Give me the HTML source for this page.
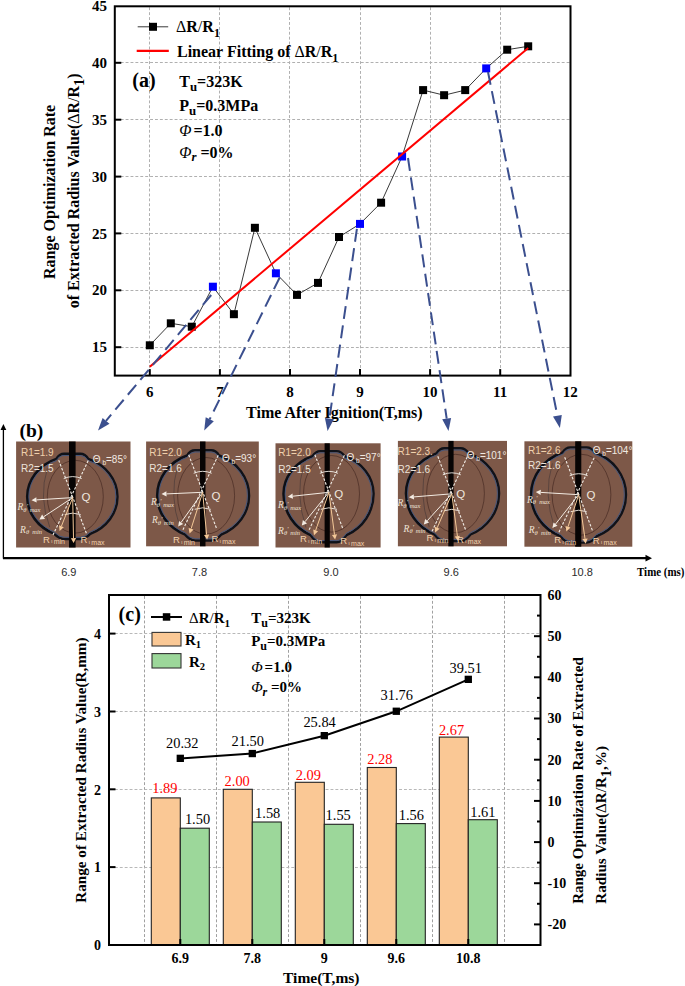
<!DOCTYPE html>
<html><head><meta charset="utf-8"><style>
html,body{margin:0;padding:0;background:#fff;width:685px;height:986px;overflow:hidden}
svg{display:block}
</style></head><body>
<svg width="685" height="986" viewBox="0 0 685 986">
<line x1="149.5" y1="7.3" x2="149.5" y2="374.6" stroke="#b0b0b0" stroke-width="1" stroke-dasharray="2.9 2.0"/>
<line x1="219.5" y1="7.3" x2="219.5" y2="374.6" stroke="#b0b0b0" stroke-width="1" stroke-dasharray="2.9 2.0"/>
<line x1="289.5" y1="7.3" x2="289.5" y2="374.6" stroke="#b0b0b0" stroke-width="1" stroke-dasharray="2.9 2.0"/>
<line x1="360.5" y1="7.3" x2="360.5" y2="374.6" stroke="#b0b0b0" stroke-width="1" stroke-dasharray="2.9 2.0"/>
<line x1="430.5" y1="7.3" x2="430.5" y2="374.6" stroke="#b0b0b0" stroke-width="1" stroke-dasharray="2.9 2.0"/>
<line x1="500.5" y1="7.3" x2="500.5" y2="374.6" stroke="#b0b0b0" stroke-width="1" stroke-dasharray="2.9 2.0"/>
<line x1="115.8" y1="347.5" x2="569.5" y2="347.5" stroke="#b0b0b0" stroke-width="1" stroke-dasharray="2.9 2.0"/>
<line x1="115.8" y1="290.5" x2="569.5" y2="290.5" stroke="#b0b0b0" stroke-width="1" stroke-dasharray="2.9 2.0"/>
<line x1="115.8" y1="233.5" x2="569.5" y2="233.5" stroke="#b0b0b0" stroke-width="1" stroke-dasharray="2.9 2.0"/>
<line x1="115.8" y1="176.5" x2="569.5" y2="176.5" stroke="#b0b0b0" stroke-width="1" stroke-dasharray="2.9 2.0"/>
<line x1="115.8" y1="119.5" x2="569.5" y2="119.5" stroke="#b0b0b0" stroke-width="1" stroke-dasharray="2.9 2.0"/>
<line x1="115.8" y1="62.5" x2="569.5" y2="62.5" stroke="#b0b0b0" stroke-width="1" stroke-dasharray="2.9 2.0"/>
<rect x="114.8" y="6.3" width="455.7" height="369.3" fill="none" stroke="#000" stroke-width="2"/>
<line x1="149.8" y1="375.6" x2="149.8" y2="369.1" stroke="#000" stroke-width="2"/>
<line x1="219.9" y1="375.6" x2="219.9" y2="369.1" stroke="#000" stroke-width="2"/>
<line x1="290.0" y1="375.6" x2="290.0" y2="369.1" stroke="#000" stroke-width="2"/>
<line x1="360.0" y1="375.6" x2="360.0" y2="369.1" stroke="#000" stroke-width="2"/>
<line x1="430.1" y1="375.6" x2="430.1" y2="369.1" stroke="#000" stroke-width="2"/>
<line x1="500.2" y1="375.6" x2="500.2" y2="369.1" stroke="#000" stroke-width="2"/>
<line x1="114.8" y1="347.2" x2="121.3" y2="347.2" stroke="#000" stroke-width="2"/>
<line x1="114.8" y1="290.3" x2="121.3" y2="290.3" stroke="#000" stroke-width="2"/>
<line x1="114.8" y1="233.4" x2="121.3" y2="233.4" stroke="#000" stroke-width="2"/>
<line x1="114.8" y1="176.6" x2="121.3" y2="176.6" stroke="#000" stroke-width="2"/>
<line x1="114.8" y1="119.7" x2="121.3" y2="119.7" stroke="#000" stroke-width="2"/>
<line x1="114.8" y1="62.8" x2="121.3" y2="62.8" stroke="#000" stroke-width="2"/>
<text x="149.8" y="396.5" font-family='"Liberation Serif", serif' font-weight="bold" font-size="15" text-anchor="middle">6</text>
<text x="219.9" y="396.5" font-family='"Liberation Serif", serif' font-weight="bold" font-size="15" text-anchor="middle">7</text>
<text x="290.0" y="396.5" font-family='"Liberation Serif", serif' font-weight="bold" font-size="15" text-anchor="middle">8</text>
<text x="360.0" y="396.5" font-family='"Liberation Serif", serif' font-weight="bold" font-size="15" text-anchor="middle">9</text>
<text x="430.1" y="396.5" font-family='"Liberation Serif", serif' font-weight="bold" font-size="15" text-anchor="middle">10</text>
<text x="500.2" y="396.5" font-family='"Liberation Serif", serif' font-weight="bold" font-size="15" text-anchor="middle">11</text>
<text x="570.3" y="396.5" font-family='"Liberation Serif", serif' font-weight="bold" font-size="15" text-anchor="middle">12</text>
<text x="107" y="352.3" font-family='"Liberation Serif", serif' font-weight="bold" font-size="15" text-anchor="end">15</text>
<text x="107" y="295.4" font-family='"Liberation Serif", serif' font-weight="bold" font-size="15" text-anchor="end">20</text>
<text x="107" y="238.5" font-family='"Liberation Serif", serif' font-weight="bold" font-size="15" text-anchor="end">25</text>
<text x="107" y="181.7" font-family='"Liberation Serif", serif' font-weight="bold" font-size="15" text-anchor="end">30</text>
<text x="107" y="124.8" font-family='"Liberation Serif", serif' font-weight="bold" font-size="15" text-anchor="end">35</text>
<text x="107" y="67.9" font-family='"Liberation Serif", serif' font-weight="bold" font-size="15" text-anchor="end">40</text>
<text x="107" y="11.0" font-family='"Liberation Serif", serif' font-weight="bold" font-size="15" text-anchor="end">45</text>
<text x="334.3" y="418.3" font-family='"Liberation Serif", serif' font-weight="bold" font-size="16" text-anchor="middle">Time After Ignition(T,ms)</text>
<g transform="translate(55.4,279) rotate(-90)"><text x="0" y="0" font-family='"Liberation Serif", serif' font-weight="bold" font-size="16">Range Optimization Rate</text></g>
<g transform="translate(79.4,308.2) rotate(-90)"><text x="0" y="0" font-family='"Liberation Serif", serif' font-weight="bold" font-size="16">of Extracted Radius Value(<tspan font-weight="normal">Δ</tspan>R<tspan font-weight="normal">/</tspan>R<tspan font-size="14" dy="4.5">1</tspan><tspan dy="-4.5">)</tspan></text></g>
<polyline points="149.8,345.3 170.8,323.3 191.8,326.7 212.9,286.7 233.9,314.2 254.9,227.8 275.9,273.3 297.0,294.9 318.0,282.9 339.0,237.0 360.0,223.9 381.1,202.7 402.1,156.5 423.1,90.1 444.1,95.2 465.2,90.1 486.2,68.4 507.2,49.7 528.2,46.3" fill="none" stroke="#222" stroke-width="0.9"/>
<rect x="145.8" y="341.3" width="8" height="8" fill="#000"/>
<rect x="166.8" y="319.3" width="8" height="8" fill="#000"/>
<rect x="187.8" y="322.7" width="8" height="8" fill="#000"/>
<rect x="208.9" y="282.7" width="8" height="8" fill="#0000ff"/>
<rect x="229.9" y="310.2" width="8" height="8" fill="#000"/>
<rect x="250.9" y="223.8" width="8" height="8" fill="#000"/>
<rect x="271.9" y="269.3" width="8" height="8" fill="#0000ff"/>
<rect x="293.0" y="290.9" width="8" height="8" fill="#000"/>
<rect x="314.0" y="278.9" width="8" height="8" fill="#000"/>
<rect x="335.0" y="233.0" width="8" height="8" fill="#000"/>
<rect x="356.0" y="219.9" width="8" height="8" fill="#0000ff"/>
<rect x="377.1" y="198.7" width="8" height="8" fill="#000"/>
<rect x="398.1" y="152.5" width="8" height="8" fill="#0000ff"/>
<rect x="419.1" y="86.1" width="8" height="8" fill="#000"/>
<rect x="440.1" y="91.2" width="8" height="8" fill="#000"/>
<rect x="461.2" y="86.1" width="8" height="8" fill="#000"/>
<rect x="482.2" y="64.4" width="8" height="8" fill="#0000ff"/>
<rect x="503.2" y="45.7" width="8" height="8" fill="#000"/>
<rect x="524.2" y="42.3" width="8" height="8" fill="#000"/>
<line x1="149.8" y1="366.8" x2="528.2" y2="48.0" stroke="#ff0000" stroke-width="2"/>
<line x1="137.7" y1="26.8" x2="168.2" y2="26.8" stroke="#222" stroke-width="0.9"/>
<rect x="149" y="22.8" width="8" height="8" fill="#000"/>
<text x="176" y="32.3" font-family='"Liberation Serif", serif' font-weight="bold" font-size="16"><tspan font-weight="normal">Δ</tspan>R<tspan font-weight="normal">/</tspan>R<tspan font-size="12" dy="4.5">1</tspan></text>
<line x1="136.7" y1="50.9" x2="168.8" y2="50.9" stroke="#ff0000" stroke-width="2.2"/>
<text x="177" y="57" font-family='"Liberation Serif", serif' font-weight="bold" font-size="16">Linear Fitting of <tspan font-weight="normal">Δ</tspan>R<tspan font-weight="normal">/</tspan>R<tspan font-size="12" dy="4.5">1</tspan></text>
<text x="132.3" y="86.6" font-family='"Liberation Serif", serif' font-weight="bold" font-size="20">(a)</text>
<text x="179.3" y="87.2" font-family='"Liberation Serif", serif' font-weight="bold" font-size="16">T<tspan font-size="12.8" dy="4">u</tspan><tspan dy="-4">=323K</tspan></text>
<text x="179.3" y="110.7" font-family='"Liberation Serif", serif' font-weight="bold" font-size="16">P<tspan font-size="12.8" dy="4">u</tspan><tspan dy="-4">=0.3MPa</tspan></text>
<text x="179.3" y="136" font-family='"Liberation Serif", serif' font-weight="bold" font-size="16"><tspan font-style="italic" font-weight="normal">Φ</tspan><tspan dx="2">=1.0</tspan></text>
<text x="179.3" y="157.7" font-family='"Liberation Serif", serif' font-weight="bold" font-size="16"><tspan font-style="italic" font-weight="normal">Φ</tspan><tspan font-style="italic" font-size="12.8" dy="3.5">r</tspan><tspan dy="-3.5"> =0%</tspan></text>
<line x1="211.2" y1="295" x2="106.0" y2="420.9" stroke="#3b4f8e" stroke-width="2" stroke-dasharray="13 6.5"/>
<polygon points="98,430.5 102.6,418.0 109.5,423.8" fill="#3b4f8e"/>
<line x1="279.7" y1="277.5" x2="209.7" y2="419.3" stroke="#3b4f8e" stroke-width="2" stroke-dasharray="13 6.5"/>
<polygon points="204.2,430.5 205.7,417.3 213.8,421.3" fill="#3b4f8e"/>
<line x1="356.9" y1="228.9" x2="329.4" y2="418.6" stroke="#3b4f8e" stroke-width="2" stroke-dasharray="13 6.5"/>
<polygon points="327.6,431 324.9,418.0 333.8,419.3" fill="#3b4f8e"/>
<line x1="408" y1="158" x2="446.7" y2="418.6" stroke="#3b4f8e" stroke-width="2" stroke-dasharray="13 6.5"/>
<polygon points="448.5,431 442.2,419.3 451.1,418.0" fill="#3b4f8e"/>
<line x1="488" y1="72" x2="557.4" y2="415.7" stroke="#3b4f8e" stroke-width="2" stroke-dasharray="13 6.5"/>
<polygon points="559.9,428 553.0,416.6 561.8,414.9" fill="#3b4f8e"/>
<line x1="3.4" y1="558.5" x2="3.4" y2="429" stroke="#000" stroke-width="1.3"/>
<polygon points="3.4,424 0.5,430 6.3,430" fill="#000"/>
<line x1="3" y1="558.2" x2="647" y2="558.2" stroke="#000" stroke-width="2.2"/>
<polygon points="652,558.2 645.5,554.8 645.5,561.6" fill="#000"/>
<text x="19.5" y="437.3" font-family='"Liberation Serif", serif' font-weight="bold" font-size="19.5">(b)</text>
<text x="637" y="576" font-family='"Liberation Serif", serif' font-weight="bold" font-size="12" textLength="47.5" lengthAdjust="spacingAndGlyphs">Time (ms)</text>
<text x="68.8" y="576" font-family='"Liberation Sans", sans-serif' font-size="11" text-anchor="middle" fill="#2a2a2a">6.9</text>
<text x="199.5" y="576" font-family='"Liberation Sans", sans-serif' font-size="11" text-anchor="middle" fill="#2a2a2a">7.8</text>
<text x="331" y="576" font-family='"Liberation Sans", sans-serif' font-size="11" text-anchor="middle" fill="#2a2a2a">9.0</text>
<text x="451.2" y="576" font-family='"Liberation Sans", sans-serif' font-size="11" text-anchor="middle" fill="#2a2a2a">9.6</text>
<text x="582.2" y="576" font-family='"Liberation Sans", sans-serif' font-size="11" text-anchor="middle" fill="#2a2a2a">10.8</text>
<rect x="16.1" y="441.5" width="114.4" height="106.0" fill="#7d5848"/>
<ellipse cx="75.3" cy="496.7" rx="28.0" ry="36.4" fill="none" stroke="#3a1e1a" stroke-width="0.8" opacity="0.7"/>
<path d="M47.4,468.4 Q38.4,496.7 49.7,527.1" fill="none" stroke="#2c2a30" stroke-width="0.7" opacity="0.6"/>
<path d="M88.3,458.9 A45.2,40.4 0 0 1 117.5,496.7 A45.2,40.5 0 0 1 90.3,533.9 Q85.3,539.0 80.3,539.0 L64.3,539.0 Q59.3,539.0 54.3,533.9 A45.2,40.5 0 0 1 27.1,496.7 A45.2,40.4 0 0 1 56.3,458.9 Q59.3,453.8 64.3,453.8 L80.3,453.8 Q85.3,453.8 88.3,458.9 Z" fill="none" stroke="#101219" stroke-width="2.4"/>
<path d="M49.7,462.5 A44.4,39.6 0 0 0 27.9,496.7 A44.4,39.7 0 0 0 49.7,531.0" fill="none" stroke="#0c0d12" stroke-width="1.4"/>
<path d="M88.3,460.7 A43.5,38.7 0 0 1 115.8,496.7 A43.5,38.8 0 0 1 90.3,532.0 Q85.3,537.3 80.3,537.3 L64.3,537.3 Q59.3,537.3 54.3,532.0 A43.5,38.8 0 0 1 28.8,496.7 A43.5,38.7 0 0 1 56.3,460.7 Q59.3,455.5 64.3,455.5 L80.3,455.5 Q85.3,455.5 88.3,460.7 Z" fill="none" stroke="#3f5680" stroke-width="0.9"/>
<rect x="69" y="441.5" width="6.6" height="106.0" fill="#070404"/>
<line x1="58.7" y1="460.1" x2="86.7" y2="534.1" stroke="#f2ede6" stroke-width="1.1" stroke-dasharray="2.6 1.6"/>
<line x1="88.2" y1="460.6" x2="52.7" y2="535.6" stroke="#f2ede6" stroke-width="1.1" stroke-dasharray="2.6 1.6"/>
<path d="M63.7,478.6 Q72.7,474.6 81.7,478.6" fill="none" stroke="#f2ede6" stroke-width="0.9"/>
<path d="M64.7,514.6 Q72.7,511.6 80.7,514.6" fill="none" stroke="#f2ede6" stroke-width="0.9"/>
<line x1="72.7" y1="497.6" x2="36.5" y2="499.9" stroke="#f3ebe2" stroke-width="1.0"/>
<polygon points="31.5,500.2 36.3,497.3 36.7,502.5" fill="#f3ebe2"/>
<line x1="72.7" y1="497.6" x2="43.6" y2="516.8" stroke="#f3ebe2" stroke-width="1.0"/>
<polygon points="39.4,519.5 42.1,514.6 45.0,518.9" fill="#f3ebe2"/>
<line x1="72.7" y1="497.6" x2="61.4" y2="526.2" stroke="#f4c898" stroke-width="1.0"/>
<polygon points="59.6,530.9 59.0,525.3 63.8,527.2" fill="#f4c898"/>
<line x1="72.7" y1="497.6" x2="73.5" y2="538.1" stroke="#f4c898" stroke-width="1.0"/>
<polygon points="73.6,543.1 70.9,538.2 76.1,538.0" fill="#f4c898"/>
<text x="21.1" y="455.5" font-family='"Liberation Sans", sans-serif' font-size="10" fill="#f0d0ac">R1=1.9</text>
<text x="21.1" y="472" font-family='"Liberation Sans", sans-serif' font-size="10" fill="#ece3da">R2=1.5</text>
<text x="92.8" y="462.5" font-family='"Liberation Sans", sans-serif' font-size="10" fill="#f1e9e1">Θ<tspan font-size="6.5" dy="2"> b</tspan><tspan dy="-2">=85°</tspan></text>
<text x="81.4" y="501.1" font-family='"Liberation Sans", sans-serif' font-size="11.5" fill="#efe7df">Q</text>
<text x="17.5" y="510.2" font-family='"Liberation Serif", serif' font-style="italic" font-size="9.5" fill="#efe3d6">R<tspan font-size="6.5" dy="1.5">θ</tspan><tspan font-size="7" dy="-4">'</tspan><tspan font-size="6.5" dy="4"> max</tspan></text>
<text x="20.1" y="532.6" font-family='"Liberation Serif", serif' font-style="italic" font-size="9.5" fill="#efe3d6">R<tspan font-size="6.5" dy="1.5">θ</tspan><tspan font-size="7" dy="-4">'</tspan><tspan font-size="6.5" dy="4"> min</tspan></text>
<text x="42.9" y="542.6" font-family='"Liberation Sans", sans-serif' font-size="9.5" fill="#f2d2ae">R<tspan font-size="5" dy="0.5"> ι </tspan><tspan font-size="7" dy="1">min</tspan></text>
<text x="80.6" y="543.1" font-family='"Liberation Sans", sans-serif' font-size="9.5" fill="#f2d2ae">R<tspan font-size="5" dy="0.5"> ι </tspan><tspan font-size="7" dy="1">max</tspan></text>
<rect x="146.1" y="441.5" width="112.7" height="104.8" fill="#7d5848"/>
<ellipse cx="206.1" cy="495.8" rx="28.5" ry="38.3" fill="none" stroke="#3a1e1a" stroke-width="0.8" opacity="0.7"/>
<path d="M177.8,465.7 Q168.6,495.8 180.1,527.5" fill="none" stroke="#2c2a30" stroke-width="0.7" opacity="0.6"/>
<path d="M219.1,455.5 A46.0,43.0 0 0 1 249.1,495.8 A46.0,42.2 0 0 1 221.1,534.6 Q216.1,540.5 211.1,540.5 L195.1,540.5 Q190.1,540.5 185.1,534.6 A46.0,42.2 0 0 1 157.1,495.8 A46.0,43.0 0 0 1 187.1,455.5 Q190.1,450.3 195.1,450.3 L211.1,450.3 Q216.1,450.3 219.1,455.5 Z" fill="none" stroke="#101219" stroke-width="2.4"/>
<path d="M180.1,459.4 A45.2,42.2 0 0 0 157.9,495.8 A45.2,41.4 0 0 0 180.1,531.5" fill="none" stroke="#0c0d12" stroke-width="1.4"/>
<path d="M219.1,457.3 A44.3,41.3 0 0 1 247.4,495.8 A44.3,40.5 0 0 1 221.1,532.8 Q216.1,538.8 211.1,538.8 L195.1,538.8 Q190.1,538.8 185.1,532.8 A44.3,40.5 0 0 1 158.8,495.8 A44.3,41.3 0 0 1 187.1,457.3 Q190.1,452.0 195.1,452.0 L211.1,452.0 Q216.1,452.0 219.1,457.3 Z" fill="none" stroke="#3f5680" stroke-width="0.9"/>
<rect x="200" y="441.5" width="5.5" height="104.8" fill="#070404"/>
<line x1="188.7" y1="454.8" x2="216.7" y2="528.8" stroke="#f2ede6" stroke-width="1.1" stroke-dasharray="2.6 1.6"/>
<line x1="218.2" y1="455.3" x2="182.7" y2="530.3" stroke="#f2ede6" stroke-width="1.1" stroke-dasharray="2.6 1.6"/>
<path d="M193.7,473.3 Q202.7,469.3 211.7,473.3" fill="none" stroke="#f2ede6" stroke-width="0.9"/>
<path d="M194.7,509.3 Q202.7,506.3 210.7,509.3" fill="none" stroke="#f2ede6" stroke-width="0.9"/>
<line x1="202.7" y1="492.3" x2="166.5" y2="493.9" stroke="#f3ebe2" stroke-width="1.0"/>
<polygon points="161.5,494.1 166.4,491.3 166.6,496.5" fill="#f3ebe2"/>
<line x1="202.7" y1="492.3" x2="181.1" y2="522.4" stroke="#f3ebe2" stroke-width="1.0"/>
<polygon points="178.2,526.5 179.0,520.9 183.2,523.9" fill="#f3ebe2"/>
<line x1="202.7" y1="492.3" x2="191.1" y2="528.7" stroke="#f4c898" stroke-width="1.0"/>
<polygon points="189.6,533.5 188.6,527.9 193.6,529.5" fill="#f4c898"/>
<line x1="202.7" y1="492.3" x2="206.6" y2="534.6" stroke="#f4c898" stroke-width="1.0"/>
<polygon points="207.1,539.6 204.0,534.9 209.2,534.4" fill="#f4c898"/>
<text x="149.3" y="455.5" font-family='"Liberation Sans", sans-serif' font-size="10" fill="#f0d0ac">R1=2.0</text>
<text x="149.3" y="472" font-family='"Liberation Sans", sans-serif' font-size="10" fill="#ece3da">R2=1.6</text>
<text x="222" y="462" font-family='"Liberation Sans", sans-serif' font-size="10" fill="#f1e9e1">Θ<tspan font-size="6.5" dy="2"> b</tspan><tspan dy="-2">=93°</tspan></text>
<text x="211.4" y="500.2" font-family='"Liberation Sans", sans-serif' font-size="11.5" fill="#efe7df">Q</text>
<text x="151" y="505.4" font-family='"Liberation Serif", serif' font-style="italic" font-size="9.5" fill="#efe3d6">R<tspan font-size="6.5" dy="1.5">θ</tspan><tspan font-size="7" dy="-4">'</tspan><tspan font-size="6.5" dy="4"> max</tspan></text>
<text x="151.9" y="523" font-family='"Liberation Serif", serif' font-style="italic" font-size="9.5" fill="#efe3d6">R<tspan font-size="6.5" dy="1.5">θ</tspan><tspan font-size="7" dy="-4">'</tspan><tspan font-size="6.5" dy="4"> min</tspan></text>
<text x="172.9" y="543.1" font-family='"Liberation Sans", sans-serif' font-size="9.5" fill="#f2d2ae">R<tspan font-size="5" dy="0.5"> ι </tspan><tspan font-size="7" dy="1">min</tspan></text>
<text x="211.4" y="542.2" font-family='"Liberation Sans", sans-serif' font-size="9.5" fill="#f2d2ae">R<tspan font-size="5" dy="0.5"> ι </tspan><tspan font-size="7" dy="1">max</tspan></text>
<rect x="275.5" y="443.3" width="105.1" height="104.2" fill="#7d5848"/>
<ellipse cx="331.5" cy="493.8" rx="28.0" ry="38.3" fill="none" stroke="#3a1e1a" stroke-width="0.8" opacity="0.7"/>
<path d="M303.7,465.7 Q294.7,493.8 305.9,527.5" fill="none" stroke="#2c2a30" stroke-width="0.7" opacity="0.6"/>
<path d="M344.5,456.2 A45.1,40.2 0 0 1 373.6,493.8 A45.1,45.0 0 0 1 346.5,535.1 Q341.5,542.3 336.5,542.3 L320.5,542.3 Q315.5,542.3 310.5,535.1 A45.1,45.0 0 0 1 283.4,493.8 A45.1,40.2 0 0 1 312.5,456.2 Q315.5,451.1 320.5,451.1 L336.5,451.1 Q341.5,451.1 344.5,456.2 Z" fill="none" stroke="#101219" stroke-width="2.4"/>
<path d="M305.9,459.8 A44.3,39.4 0 0 0 284.2,493.8 A44.3,44.2 0 0 0 305.9,532.0" fill="none" stroke="#0c0d12" stroke-width="1.4"/>
<path d="M344.5,458.0 A43.4,38.5 0 0 1 371.9,493.8 A43.4,43.3 0 0 1 346.5,533.2 Q341.5,540.6 336.5,540.6 L320.5,540.6 Q315.5,540.6 310.5,533.2 A43.4,43.3 0 0 1 285.1,493.8 A43.4,38.5 0 0 1 312.5,458.0 Q315.5,452.8 320.5,452.8 L336.5,452.8 Q341.5,452.8 344.5,458.0 Z" fill="none" stroke="#3f5680" stroke-width="0.9"/>
<rect x="324.6" y="443.3" width="5.2" height="104.2" fill="#070404"/>
<line x1="314.9" y1="454.8" x2="342.9" y2="528.8" stroke="#f2ede6" stroke-width="1.1" stroke-dasharray="2.6 1.6"/>
<line x1="344.4" y1="455.3" x2="308.9" y2="530.3" stroke="#f2ede6" stroke-width="1.1" stroke-dasharray="2.6 1.6"/>
<path d="M319.9,473.3 Q328.9,469.3 337.9,473.3" fill="none" stroke="#f2ede6" stroke-width="0.9"/>
<path d="M320.9,509.3 Q328.9,506.3 336.9,509.3" fill="none" stroke="#f2ede6" stroke-width="0.9"/>
<line x1="328.9" y1="492.3" x2="292.8" y2="496.2" stroke="#f3ebe2" stroke-width="1.0"/>
<polygon points="287.8,496.7 292.5,493.6 293.0,498.8" fill="#f3ebe2"/>
<line x1="328.9" y1="492.3" x2="305.0" y2="521.7" stroke="#f3ebe2" stroke-width="1.0"/>
<polygon points="301.8,525.6 302.9,520.1 307.0,523.4" fill="#f3ebe2"/>
<line x1="328.9" y1="492.3" x2="315.6" y2="530.5" stroke="#f4c898" stroke-width="1.0"/>
<polygon points="314.0,535.2 313.2,529.6 318.1,531.3" fill="#f4c898"/>
<line x1="328.9" y1="492.3" x2="334.5" y2="534.6" stroke="#f4c898" stroke-width="1.0"/>
<polygon points="335.1,539.6 331.9,535.0 337.0,534.3" fill="#f4c898"/>
<text x="278.2" y="456.4" font-family='"Liberation Sans", sans-serif' font-size="10" fill="#f0d0ac">R1=2.0</text>
<text x="278.2" y="473" font-family='"Liberation Sans", sans-serif' font-size="10" fill="#ece3da">R2=1.5</text>
<text x="346.5" y="461" font-family='"Liberation Sans", sans-serif' font-size="10" fill="#f1e9e1">Θ<tspan font-size="6.5" dy="2"> b</tspan><tspan dy="-2">=97°</tspan></text>
<text x="334.2" y="498.4" font-family='"Liberation Sans", sans-serif' font-size="11.5" fill="#efe7df">Q</text>
<text x="278.1" y="508.1" font-family='"Liberation Serif", serif' font-style="italic" font-size="9.5" fill="#efe3d6">R<tspan font-size="6.5" dy="1.5">θ</tspan><tspan font-size="7" dy="-4">'</tspan><tspan font-size="6.5" dy="4"> max</tspan></text>
<text x="278.1" y="533.5" font-family='"Liberation Serif", serif' font-style="italic" font-size="9.5" fill="#efe3d6">R<tspan font-size="6.5" dy="1.5">θ</tspan><tspan font-size="7" dy="-4">'</tspan><tspan font-size="6.5" dy="4"> min</tspan></text>
<text x="300" y="542.2" font-family='"Liberation Sans", sans-serif' font-size="9.5" fill="#f2d2ae">R<tspan font-size="5" dy="0.5"> ι </tspan><tspan font-size="7" dy="1">min</tspan></text>
<text x="340.3" y="544" font-family='"Liberation Sans", sans-serif' font-size="9.5" fill="#f2d2ae">R<tspan font-size="5" dy="0.5"> ι </tspan><tspan font-size="7" dy="1">max</tspan></text>
<rect x="397.9" y="440.9" width="109.1" height="105.4" fill="#7d5848"/>
<ellipse cx="455.5" cy="493.5" rx="28.9" ry="39.2" fill="none" stroke="#3a1e1a" stroke-width="0.8" opacity="0.7"/>
<path d="M426.9,463.6 Q417.6,493.5 429.2,526.9" fill="none" stroke="#2c2a30" stroke-width="0.7" opacity="0.6"/>
<path d="M468.5,453.4 A46.6,42.7 0 0 1 499.1,493.5 A46.6,44.5 0 0 1 470.5,534.5 Q465.5,541.1 460.5,541.1 L444.5,541.1 Q439.5,541.1 434.5,534.5 A46.6,44.5 0 0 1 405.9,493.5 A46.6,42.7 0 0 1 436.5,453.4 Q439.5,448.3 444.5,448.3 L460.5,448.3 Q465.5,448.3 468.5,453.4 Z" fill="none" stroke="#101219" stroke-width="2.4"/>
<path d="M429.2,457.3 A45.8,41.9 0 0 0 406.7,493.5 A45.8,43.7 0 0 0 429.2,531.2" fill="none" stroke="#0c0d12" stroke-width="1.4"/>
<path d="M468.5,455.2 A44.9,41.0 0 0 1 497.4,493.5 A44.9,42.8 0 0 1 470.5,532.7 Q465.5,539.4 460.5,539.4 L444.5,539.4 Q439.5,539.4 434.5,532.7 A44.9,42.8 0 0 1 407.6,493.5 A44.9,41.0 0 0 1 436.5,455.2 Q439.5,450.0 444.5,450.0 L460.5,450.0 Q465.5,450.0 468.5,455.2 Z" fill="none" stroke="#3f5680" stroke-width="0.9"/>
<rect x="448.3" y="440.9" width="5.3" height="105.4" fill="#070404"/>
<line x1="437.8" y1="456.3" x2="465.8" y2="530.3" stroke="#f2ede6" stroke-width="1.1" stroke-dasharray="2.6 1.6"/>
<line x1="467.3" y1="456.8" x2="431.8" y2="531.8" stroke="#f2ede6" stroke-width="1.1" stroke-dasharray="2.6 1.6"/>
<path d="M442.8,474.8 Q451.8,470.8 460.8,474.8" fill="none" stroke="#f2ede6" stroke-width="0.9"/>
<path d="M443.8,510.8 Q451.8,507.8 459.8,510.8" fill="none" stroke="#f2ede6" stroke-width="0.9"/>
<line x1="451.8" y1="493.8" x2="413.9" y2="496.9" stroke="#f3ebe2" stroke-width="1.0"/>
<polygon points="408.9,497.3 413.7,494.3 414.1,499.5" fill="#f3ebe2"/>
<line x1="451.8" y1="493.8" x2="427.2" y2="520.8" stroke="#f3ebe2" stroke-width="1.0"/>
<polygon points="423.8,524.5 425.2,519.1 429.1,522.6" fill="#f3ebe2"/>
<line x1="451.8" y1="493.8" x2="437.2" y2="527.8" stroke="#f4c898" stroke-width="1.0"/>
<polygon points="435.2,532.4 434.8,526.8 439.6,528.8" fill="#f4c898"/>
<line x1="451.8" y1="493.8" x2="457.4" y2="536.1" stroke="#f4c898" stroke-width="1.0"/>
<polygon points="458.0,541.1 454.8,536.5 459.9,535.8" fill="#f4c898"/>
<text x="397.6" y="455.3" font-family='"Liberation Sans", sans-serif' font-size="10" fill="#f0d0ac">R1=2.3.</text>
<text x="397.6" y="472.8" font-family='"Liberation Sans", sans-serif' font-size="10" fill="#ece3da">R2=1.6</text>
<text x="466.7" y="458.5" font-family='"Liberation Sans", sans-serif' font-size="10" fill="#f1e9e1">Θ<tspan font-size="6.5" dy="2"> b</tspan><tspan dy="-2">=101°</tspan></text>
<text x="456.2" y="498.2" font-family='"Liberation Sans", sans-serif' font-size="11.5" fill="#efe7df">Q</text>
<text x="397.5" y="506.1" font-family='"Liberation Serif", serif' font-style="italic" font-size="9.5" fill="#efe3d6">R<tspan font-size="6.5" dy="1.5">θ</tspan><tspan font-size="7" dy="-4">'</tspan><tspan font-size="6.5" dy="4"> max</tspan></text>
<text x="403.6" y="531.5" font-family='"Liberation Serif", serif' font-style="italic" font-size="9.5" fill="#efe3d6">R<tspan font-size="6.5" dy="1.5">θ</tspan><tspan font-size="7" dy="-4">'</tspan><tspan font-size="6.5" dy="4"> min</tspan></text>
<text x="426.4" y="541.1" font-family='"Liberation Sans", sans-serif' font-size="9.5" fill="#f2d2ae">R<tspan font-size="5" dy="0.5"> ι </tspan><tspan font-size="7" dy="1">min</tspan></text>
<text x="457.1" y="542.9" font-family='"Liberation Sans", sans-serif' font-size="9.5" fill="#f2d2ae">R<tspan font-size="5" dy="0.5"> ι </tspan><tspan font-size="7" dy="1">max</tspan></text>
<rect x="524.4" y="441.3" width="107.9" height="105.4" fill="#7d5848"/>
<ellipse cx="581.5" cy="494.7" rx="29.4" ry="40.4" fill="none" stroke="#3a1e1a" stroke-width="0.8" opacity="0.7"/>
<path d="M552.4,463.3 Q542.9,494.7 554.8,528.5" fill="none" stroke="#2c2a30" stroke-width="0.7" opacity="0.6"/>
<path d="M594.5,452.5 A47.5,44.8 0 0 1 626.0,494.7 A47.5,45.0 0 0 1 596.5,536.3 Q591.5,542.6 586.5,542.6 L570.5,542.6 Q565.5,542.6 560.5,536.3 A47.5,45.0 0 0 1 531.0,494.7 A47.5,44.8 0 0 1 562.5,452.5 Q565.5,447.4 570.5,447.4 L586.5,447.4 Q591.5,447.4 594.5,452.5 Z" fill="none" stroke="#101219" stroke-width="2.4"/>
<path d="M554.8,456.7 A46.7,44.0 0 0 0 531.8,494.7 A46.7,44.2 0 0 0 554.8,532.9" fill="none" stroke="#0c0d12" stroke-width="1.4"/>
<path d="M594.5,454.3 A45.8,43.1 0 0 1 624.3,494.7 A45.8,43.3 0 0 1 596.5,534.5 Q591.5,540.9 586.5,540.9 L570.5,540.9 Q565.5,540.9 560.5,534.5 A45.8,43.3 0 0 1 532.7,494.7 A45.8,43.1 0 0 1 562.5,454.3 Q565.5,449.1 570.5,449.1 L586.5,449.1 Q591.5,449.1 594.5,454.3 Z" fill="none" stroke="#3f5680" stroke-width="0.9"/>
<rect x="575.2" y="441.3" width="6.1" height="105.4" fill="#070404"/>
<line x1="564.7" y1="457.2" x2="592.7" y2="531.2" stroke="#f2ede6" stroke-width="1.1" stroke-dasharray="2.6 1.6"/>
<line x1="594.2" y1="457.7" x2="558.7" y2="532.7" stroke="#f2ede6" stroke-width="1.1" stroke-dasharray="2.6 1.6"/>
<path d="M569.7,475.7 Q578.7,471.7 587.7,475.7" fill="none" stroke="#f2ede6" stroke-width="0.9"/>
<path d="M570.7,511.7 Q578.7,508.7 586.7,511.7" fill="none" stroke="#f2ede6" stroke-width="0.9"/>
<line x1="578.7" y1="494.7" x2="540.8" y2="492.4" stroke="#f3ebe2" stroke-width="1.0"/>
<polygon points="535.8,492.1 540.9,489.8 540.6,495.0" fill="#f3ebe2"/>
<line x1="578.7" y1="494.7" x2="555.5" y2="524.1" stroke="#f3ebe2" stroke-width="1.0"/>
<polygon points="552.4,528.0 553.5,522.5 557.5,525.7" fill="#f3ebe2"/>
<line x1="578.7" y1="494.7" x2="568.0" y2="526.8" stroke="#f4c898" stroke-width="1.0"/>
<polygon points="566.4,531.5 565.5,525.9 570.5,527.6" fill="#f4c898"/>
<line x1="578.7" y1="494.7" x2="585.0" y2="538.8" stroke="#f4c898" stroke-width="1.0"/>
<polygon points="585.7,543.7 582.4,539.1 587.6,538.4" fill="#f4c898"/>
<text x="528.0" y="453.5" font-family='"Liberation Sans", sans-serif' font-size="10" fill="#f0d0ac">R1=2.6</text>
<text x="528.0" y="469.3" font-family='"Liberation Sans", sans-serif' font-size="10" fill="#ece3da">R2=1.6</text>
<text x="592.7" y="453.5" font-family='"Liberation Sans", sans-serif' font-size="10" fill="#f1e9e1">Θ<tspan font-size="6.5" dy="2"> b</tspan><tspan dy="-2">=104°</tspan></text>
<text x="586.6" y="499.1" font-family='"Liberation Sans", sans-serif' font-size="11.5" fill="#efe7df">Q</text>
<text x="527" y="502.6" font-family='"Liberation Serif", serif' font-style="italic" font-size="9.5" fill="#efe3d6">R<tspan font-size="6.5" dy="1.5">θ</tspan><tspan font-size="7" dy="-4">'</tspan><tspan font-size="6.5" dy="4"> max</tspan></text>
<text x="528.8" y="533.2" font-family='"Liberation Serif", serif' font-style="italic" font-size="9.5" fill="#efe3d6">R<tspan font-size="6.5" dy="1.5">θ</tspan><tspan font-size="7" dy="-4">'</tspan><tspan font-size="6.5" dy="4"> min</tspan></text>
<text x="554.2" y="543.2" font-family='"Liberation Sans", sans-serif' font-size="9.5" fill="#f2d2ae">R<tspan font-size="5" dy="0.5"> ι </tspan><tspan font-size="7" dy="1">min</tspan></text>
<text x="592.7" y="543.7" font-family='"Liberation Sans", sans-serif' font-size="9.5" fill="#f2d2ae">R<tspan font-size="5" dy="0.5"> ι </tspan><tspan font-size="7" dy="1">max</tspan></text>
<line x1="144.5" y1="596" x2="144.5" y2="944" stroke="#a0a0a0" stroke-width="1" stroke-dasharray="2.9 2.0"/>
<line x1="216.5" y1="596" x2="216.5" y2="944" stroke="#a0a0a0" stroke-width="1" stroke-dasharray="2.9 2.0"/>
<line x1="288.5" y1="596" x2="288.5" y2="944" stroke="#a0a0a0" stroke-width="1" stroke-dasharray="2.9 2.0"/>
<line x1="360.5" y1="596" x2="360.5" y2="944" stroke="#a0a0a0" stroke-width="1" stroke-dasharray="2.9 2.0"/>
<line x1="432.5" y1="596" x2="432.5" y2="944" stroke="#a0a0a0" stroke-width="1" stroke-dasharray="2.9 2.0"/>
<line x1="504.5" y1="596" x2="504.5" y2="944" stroke="#a0a0a0" stroke-width="1" stroke-dasharray="2.9 2.0"/>
<line x1="110" y1="867.5" x2="539.5" y2="867.5" stroke="#b8b8b8" stroke-width="1" stroke-dasharray="2.9 2.0"/>
<line x1="110" y1="789.5" x2="539.5" y2="789.5" stroke="#b8b8b8" stroke-width="1" stroke-dasharray="2.9 2.0"/>
<line x1="110" y1="711.5" x2="539.5" y2="711.5" stroke="#b8b8b8" stroke-width="1" stroke-dasharray="2.9 2.0"/>
<line x1="110" y1="633.5" x2="539.5" y2="633.5" stroke="#b8b8b8" stroke-width="1" stroke-dasharray="2.9 2.0"/>
<rect x="151.3" y="797.9" width="29" height="147.1" fill="#fac895" stroke="#222" stroke-width="1.1"/>
<rect x="180.3" y="828.2" width="29" height="116.8" fill="#9cd79a" stroke="#222" stroke-width="1.1"/>
<text x="164.9" y="793.0" font-family='"Liberation Serif", serif' font-size="14.4" text-anchor="middle" fill="#ff0000">1.89</text>
<text x="197.5" y="823.9" font-family='"Liberation Serif", serif' font-size="14.4" text-anchor="middle" fill="#000">1.50</text>
<rect x="223.3" y="789.3" width="29" height="155.7" fill="#fac895" stroke="#222" stroke-width="1.1"/>
<rect x="252.3" y="822.0" width="29" height="123.0" fill="#9cd79a" stroke="#222" stroke-width="1.1"/>
<text x="237.2" y="786.0" font-family='"Liberation Serif", serif' font-size="14.4" text-anchor="middle" fill="#ff0000">2.00</text>
<text x="267.7" y="817.9" font-family='"Liberation Serif", serif' font-size="14.4" text-anchor="middle" fill="#000">1.58</text>
<rect x="295.3" y="782.3" width="29" height="162.7" fill="#fac895" stroke="#222" stroke-width="1.1"/>
<rect x="324.3" y="824.3" width="29" height="120.7" fill="#9cd79a" stroke="#222" stroke-width="1.1"/>
<text x="308.3" y="779.7" font-family='"Liberation Serif", serif' font-size="14.4" text-anchor="middle" fill="#ff0000">2.09</text>
<text x="338.2" y="820.3" font-family='"Liberation Serif", serif' font-size="14.4" text-anchor="middle" fill="#000">1.55</text>
<rect x="367.3" y="767.5" width="29" height="177.5" fill="#fac895" stroke="#222" stroke-width="1.1"/>
<rect x="396.3" y="823.6" width="29" height="121.4" fill="#9cd79a" stroke="#222" stroke-width="1.1"/>
<text x="379.9" y="764.2" font-family='"Liberation Serif", serif' font-size="14.4" text-anchor="middle" fill="#ff0000">2.28</text>
<text x="411.3" y="820.1" font-family='"Liberation Serif", serif' font-size="14.4" text-anchor="middle" fill="#000">1.56</text>
<rect x="439.3" y="737.1" width="29" height="207.9" fill="#fac895" stroke="#222" stroke-width="1.1"/>
<rect x="468.3" y="819.7" width="29" height="125.3" fill="#9cd79a" stroke="#222" stroke-width="1.1"/>
<text x="451.5" y="735.3" font-family='"Liberation Serif", serif' font-size="14.4" text-anchor="middle" fill="#ff0000">2.67</text>
<text x="482.8" y="816.7" font-family='"Liberation Serif", serif' font-size="14.4" text-anchor="middle" fill="#000">1.61</text>
<rect x="109" y="595" width="431.5" height="350" fill="none" stroke="#000" stroke-width="2"/>
<line x1="109" y1="945.0" x2="115.5" y2="945.0" stroke="#000" stroke-width="2"/>
<text x="101" y="950.3" font-family='"Liberation Serif", serif' font-weight="bold" font-size="14" text-anchor="end">0</text>
<line x1="109" y1="867.1" x2="115.5" y2="867.1" stroke="#000" stroke-width="2"/>
<text x="101" y="872.4" font-family='"Liberation Serif", serif' font-weight="bold" font-size="14" text-anchor="end">1</text>
<line x1="109" y1="789.3" x2="115.5" y2="789.3" stroke="#000" stroke-width="2"/>
<text x="101" y="794.6" font-family='"Liberation Serif", serif' font-weight="bold" font-size="14" text-anchor="end">2</text>
<line x1="109" y1="711.5" x2="115.5" y2="711.5" stroke="#000" stroke-width="2"/>
<text x="101" y="716.8" font-family='"Liberation Serif", serif' font-weight="bold" font-size="14" text-anchor="end">3</text>
<line x1="109" y1="633.6" x2="115.5" y2="633.6" stroke="#000" stroke-width="2"/>
<text x="101" y="638.9" font-family='"Liberation Serif", serif' font-weight="bold" font-size="14" text-anchor="end">4</text>
<line x1="540.5" y1="924.4" x2="534.0" y2="924.4" stroke="#000" stroke-width="2"/>
<text x="547.5" y="929.2" font-family='"Liberation Serif", serif' font-weight="bold" font-size="14">-20</text>
<line x1="540.5" y1="903.8" x2="537.0" y2="903.8" stroke="#000" stroke-width="2"/>
<line x1="540.5" y1="883.2" x2="534.0" y2="883.2" stroke="#000" stroke-width="2"/>
<text x="547.5" y="888.0" font-family='"Liberation Serif", serif' font-weight="bold" font-size="14">-10</text>
<line x1="540.5" y1="862.6" x2="537.0" y2="862.6" stroke="#000" stroke-width="2"/>
<line x1="540.5" y1="842.1" x2="534.0" y2="842.1" stroke="#000" stroke-width="2"/>
<text x="547.5" y="846.9" font-family='"Liberation Serif", serif' font-weight="bold" font-size="14">0</text>
<line x1="540.5" y1="821.5" x2="537.0" y2="821.5" stroke="#000" stroke-width="2"/>
<line x1="540.5" y1="800.9" x2="534.0" y2="800.9" stroke="#000" stroke-width="2"/>
<text x="547.5" y="805.7" font-family='"Liberation Serif", serif' font-weight="bold" font-size="14">10</text>
<line x1="540.5" y1="780.3" x2="537.0" y2="780.3" stroke="#000" stroke-width="2"/>
<line x1="540.5" y1="759.7" x2="534.0" y2="759.7" stroke="#000" stroke-width="2"/>
<text x="547.5" y="764.5" font-family='"Liberation Serif", serif' font-weight="bold" font-size="14">20</text>
<line x1="540.5" y1="739.1" x2="537.0" y2="739.1" stroke="#000" stroke-width="2"/>
<line x1="540.5" y1="718.5" x2="534.0" y2="718.5" stroke="#000" stroke-width="2"/>
<text x="547.5" y="723.3" font-family='"Liberation Serif", serif' font-weight="bold" font-size="14">30</text>
<line x1="540.5" y1="697.9" x2="537.0" y2="697.9" stroke="#000" stroke-width="2"/>
<line x1="540.5" y1="677.3" x2="534.0" y2="677.3" stroke="#000" stroke-width="2"/>
<text x="547.5" y="682.1" font-family='"Liberation Serif", serif' font-weight="bold" font-size="14">40</text>
<line x1="540.5" y1="656.8" x2="537.0" y2="656.8" stroke="#000" stroke-width="2"/>
<line x1="540.5" y1="636.2" x2="534.0" y2="636.2" stroke="#000" stroke-width="2"/>
<text x="547.5" y="641.0" font-family='"Liberation Serif", serif' font-weight="bold" font-size="14">50</text>
<line x1="540.5" y1="615.6" x2="537.0" y2="615.6" stroke="#000" stroke-width="2"/>
<line x1="540.5" y1="595.0" x2="534.0" y2="595.0" stroke="#000" stroke-width="2"/>
<text x="547.5" y="599.8" font-family='"Liberation Serif", serif' font-weight="bold" font-size="14">60</text>
<line x1="180.3" y1="945" x2="180.3" y2="939" stroke="#000" stroke-width="2"/>
<text x="180.3" y="962.8" font-family='"Liberation Serif", serif' font-weight="bold" font-size="14" text-anchor="middle">6.9</text>
<line x1="252.3" y1="945" x2="252.3" y2="939" stroke="#000" stroke-width="2"/>
<text x="252.3" y="962.8" font-family='"Liberation Serif", serif' font-weight="bold" font-size="14" text-anchor="middle">7.8</text>
<line x1="324.3" y1="945" x2="324.3" y2="939" stroke="#000" stroke-width="2"/>
<text x="324.3" y="962.8" font-family='"Liberation Serif", serif' font-weight="bold" font-size="14" text-anchor="middle">9</text>
<line x1="396.3" y1="945" x2="396.3" y2="939" stroke="#000" stroke-width="2"/>
<text x="396.3" y="962.8" font-family='"Liberation Serif", serif' font-weight="bold" font-size="14" text-anchor="middle">9.6</text>
<line x1="468.3" y1="945" x2="468.3" y2="939" stroke="#000" stroke-width="2"/>
<text x="468.3" y="962.8" font-family='"Liberation Serif", serif' font-weight="bold" font-size="14" text-anchor="middle">10.8</text>
<text x="321.3" y="982.7" font-family='"Liberation Serif", serif' font-weight="bold" font-size="15.5" text-anchor="middle">Time(T,ms)</text>
<g transform="translate(86,770.1) rotate(-90)"><text x="0" y="0" font-family='"Liberation Serif", serif' font-weight="bold" font-size="15.2" text-anchor="middle">Range of Extracted Radius Value(R,mm)</text></g>
<g transform="translate(582.5,903.8) rotate(-90)"><text x="0" y="0" font-family='"Liberation Serif", serif' font-weight="bold" font-size="15">Range Optimization Rate of Extracted</text></g>
<g transform="translate(606,903.8) rotate(-90)"><text x="0" y="0" font-family='"Liberation Serif", serif' font-weight="bold" font-size="15.2">Radius Value(<tspan font-weight="normal">Δ</tspan>R<tspan font-weight="normal">/</tspan>R<tspan font-size="14" dy="4.5">1</tspan><tspan dy="-4.5">,%)</tspan></text></g>
<polyline points="180.3,758.4 252.3,753.5 324.3,735.7 396.3,711.3 468.3,679.4" fill="none" stroke="#000" stroke-width="2"/>
<rect x="176.65" y="754.7" width="7.3" height="7.3" fill="#000"/>
<text x="182.3" y="748.3" font-family='"Liberation Serif", serif' font-size="14.4" text-anchor="middle">20.32</text>
<rect x="248.65" y="749.9" width="7.3" height="7.3" fill="#000"/>
<text x="247.7" y="746.3" font-family='"Liberation Serif", serif' font-size="14.4" text-anchor="middle">21.50</text>
<rect x="320.65" y="732.0" width="7.3" height="7.3" fill="#000"/>
<text x="319.6" y="726.9" font-family='"Liberation Serif", serif' font-size="14.4" text-anchor="middle">25.84</text>
<rect x="392.65" y="707.6" width="7.3" height="7.3" fill="#000"/>
<text x="396.8" y="699.8" font-family='"Liberation Serif", serif' font-size="14.4" text-anchor="middle">31.76</text>
<rect x="464.65" y="675.7" width="7.3" height="7.3" fill="#000"/>
<text x="465.8" y="673.3" font-family='"Liberation Serif", serif' font-size="14.4" text-anchor="middle">39.51</text>
<text x="118.6" y="620.5" font-family='"Liberation Serif", serif' font-weight="bold" font-size="20">(c)</text>
<line x1="151" y1="617" x2="182" y2="617" stroke="#000" stroke-width="2"/>
<rect x="162.8" y="613.2" width="7.5" height="7.5" fill="#000"/>
<text x="189" y="622.6" font-family='"Liberation Serif", serif' font-weight="bold" font-size="15"><tspan font-weight="normal">Δ</tspan>R<tspan font-weight="normal">/</tspan>R<tspan font-size="11" dy="4">1</tspan></text>
<rect x="152" y="632.4" width="29" height="13.6" fill="#fac895" stroke="#333" stroke-width="1.1"/>
<rect x="152" y="653.6" width="29" height="14.4" fill="#9cd79a" stroke="#333" stroke-width="1.1"/>
<text x="185" y="645" font-family='"Liberation Serif", serif' font-weight="bold" font-size="15">R<tspan font-size="10.5" dy="3">1</tspan></text>
<text x="189" y="667" font-family='"Liberation Serif", serif' font-weight="bold" font-size="15">R<tspan font-size="10.5" dy="3">2</tspan></text>
<text x="251.2" y="622.6" font-family='"Liberation Serif", serif' font-weight="bold" font-size="15">T<tspan font-size="12.0" dy="4">u</tspan><tspan dy="-4">=323K</tspan></text>
<text x="251.2" y="646.4" font-family='"Liberation Serif", serif' font-weight="bold" font-size="15">P<tspan font-size="12.0" dy="4">u</tspan><tspan dy="-4">=0.3MPa</tspan></text>
<text x="251.2" y="671.6" font-family='"Liberation Serif", serif' font-weight="bold" font-size="15"><tspan font-style="italic" font-weight="normal">Φ</tspan><tspan dx="2">=1.0</tspan></text>
<text x="251.2" y="692" font-family='"Liberation Serif", serif' font-weight="bold" font-size="15"><tspan font-style="italic" font-weight="normal">Φ</tspan><tspan font-style="italic" font-size="12.0" dy="3.5">r</tspan><tspan dy="-3.5"> =0%</tspan></text>
</svg>
</body></html>
